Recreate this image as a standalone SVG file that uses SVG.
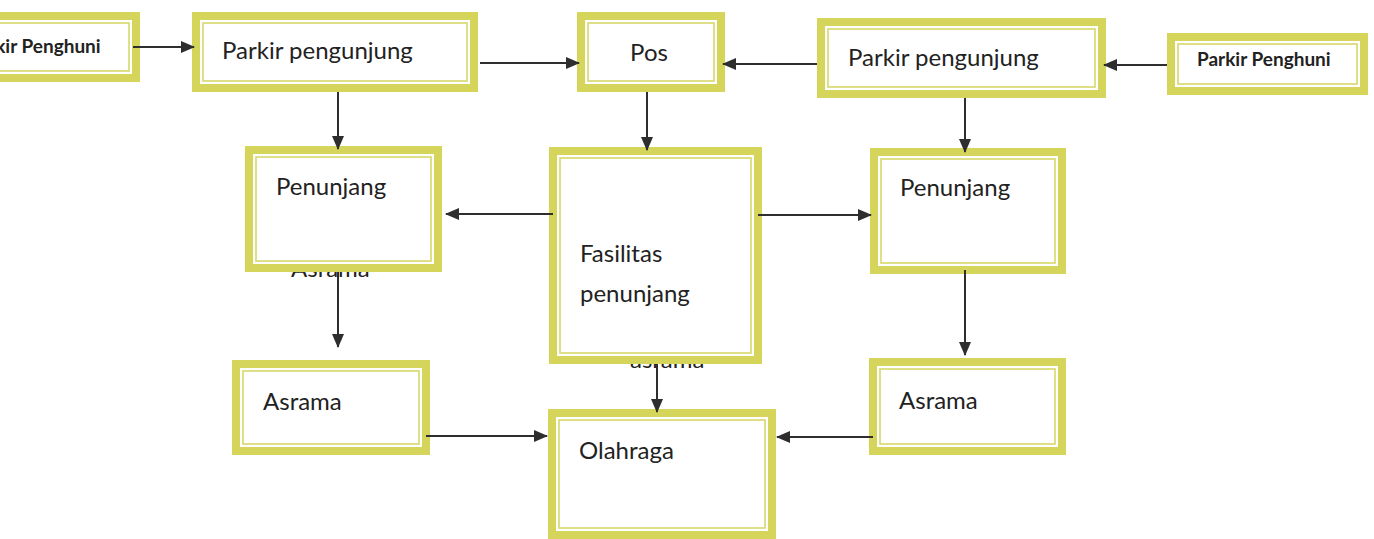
<svg xmlns="http://www.w3.org/2000/svg" width="1374" height="539" viewBox="0 0 1374 539">
  <style>
    .band { fill: #ffffff; stroke: #d4d55a; stroke-width: 8; }
    .rule { fill: none; stroke: #d6d76a; stroke-width: 1.6; }
    .lbl { font-family: Lato, "Liberation Sans", sans-serif; font-size: 24px; fill: #222222; }
    .small { font-family: Lato, "Liberation Sans", sans-serif; font-size: 19px; font-weight: bold; fill: #222222; }
    .link { fill: none; stroke: #2e2e2e; stroke-width: 2; marker-end: url(#head); }
  </style>
  <defs>
    <marker id="head" markerUnits="userSpaceOnUse" markerWidth="14" markerHeight="12" refX="13" refY="6" orient="auto">
      <path d="M0,0 L14,6 L0,12 z" fill="#2e2e2e"/>
    </marker>
  </defs>
  <rect width="1374" height="539" fill="#ffffff"/>

  <!-- labels left underneath the boxes -->
  <g id="hidden-labels">
    <text class="lbl" x="291" y="277" font-size="23">Asrama</text>
    <text class="lbl" x="630" y="368" font-size="23">asrama</text>
  </g>

  <g id="parkir-penghuni-left">
    <rect class="band" x="-56" y="16" width="192" height="62"/>
    <rect class="rule" x="-49" y="23" width="178" height="48"/>
    <text class="small" x="-33" y="53">Parkir Penghuni</text>
  </g>

  <g id="parkir-pengunjung-left">
    <rect class="band" x="196" y="16" width="278" height="72"/>
    <rect class="rule" x="203" y="23" width="264" height="58"/>
    <text class="lbl" x="222" y="59">Parkir pengunjung</text>
  </g>

  <g id="pos">
    <rect class="band" x="581" y="16" width="140" height="72"/>
    <rect class="rule" x="588" y="23" width="126" height="58"/>
    <text class="lbl" x="649" y="61" text-anchor="middle">Pos</text>
  </g>

  <g id="parkir-pengunjung-right">
    <rect class="band" x="821" y="22" width="281" height="72"/>
    <rect class="rule" x="828" y="29" width="267" height="58"/>
    <text class="lbl" x="848" y="66">Parkir pengunjung</text>
  </g>

  <g id="parkir-penghuni-right">
    <rect class="band" x="1171" y="37" width="193" height="54"/>
    <rect class="rule" x="1178" y="44" width="179" height="40"/>
    <text class="small" x="1197" y="66">Parkir Penghuni</text>
  </g>

  <g id="penunjang-left">
    <rect class="band" x="249" y="150" width="189" height="118"/>
    <rect class="rule" x="256" y="157" width="175" height="104"/>
    <text class="lbl" x="276" y="195">Penunjang</text>
  </g>

  <g id="fasilitas-penunjang">
    <rect class="band" x="553" y="151" width="205" height="209"/>
    <rect class="rule" x="560" y="158" width="191" height="195"/>
    <text class="lbl" x="580" y="262">Fasilitas</text>
    <text class="lbl" x="580" y="302">penunjang</text>
  </g>

  <g id="penunjang-right">
    <rect class="band" x="874" y="152" width="188" height="118"/>
    <rect class="rule" x="881" y="159" width="174" height="104"/>
    <text class="lbl" x="900" y="196">Penunjang</text>
  </g>

  <g id="asrama-left">
    <rect class="band" x="236" y="364" width="190" height="87"/>
    <rect class="rule" x="243" y="371" width="176" height="73"/>
    <text class="lbl" x="263" y="410">Asrama</text>
  </g>

  <g id="asrama-right">
    <rect class="band" x="873" y="362" width="189" height="89"/>
    <rect class="rule" x="880" y="369" width="175" height="75"/>
    <text class="lbl" x="899" y="409">Asrama</text>
  </g>

  <g id="olahraga">
    <rect class="band" x="552" y="413" width="220" height="122"/>
    <rect class="rule" x="559" y="420" width="206" height="108"/>
    <text class="lbl" x="579" y="459">Olahraga</text>
  </g>

  <g id="connectors">
    <line class="link" x1="133" y1="47" x2="194" y2="47"/>
    <line class="link" x1="480" y1="63" x2="579" y2="63"/>
    <line class="link" x1="817" y1="64" x2="723" y2="64"/>
    <line class="link" x1="1167" y1="65" x2="1104" y2="65"/>
    <line class="link" x1="338" y1="92" x2="338" y2="149"/>
    <line class="link" x1="647" y1="92" x2="647" y2="150"/>
    <line class="link" x1="965" y1="98" x2="965" y2="152"/>
    <line class="link" x1="553" y1="214" x2="446" y2="214"/>
    <line class="link" x1="758" y1="215" x2="871" y2="215"/>
    <line class="link" x1="338" y1="272" x2="338" y2="347"/>
    <line class="link" x1="965" y1="270" x2="965" y2="355"/>
    <line class="link" x1="657" y1="364" x2="657" y2="412"/>
    <line class="link" x1="426" y1="436" x2="547" y2="436"/>
    <line class="link" x1="873" y1="437" x2="777" y2="437"/>
  </g>
</svg>
